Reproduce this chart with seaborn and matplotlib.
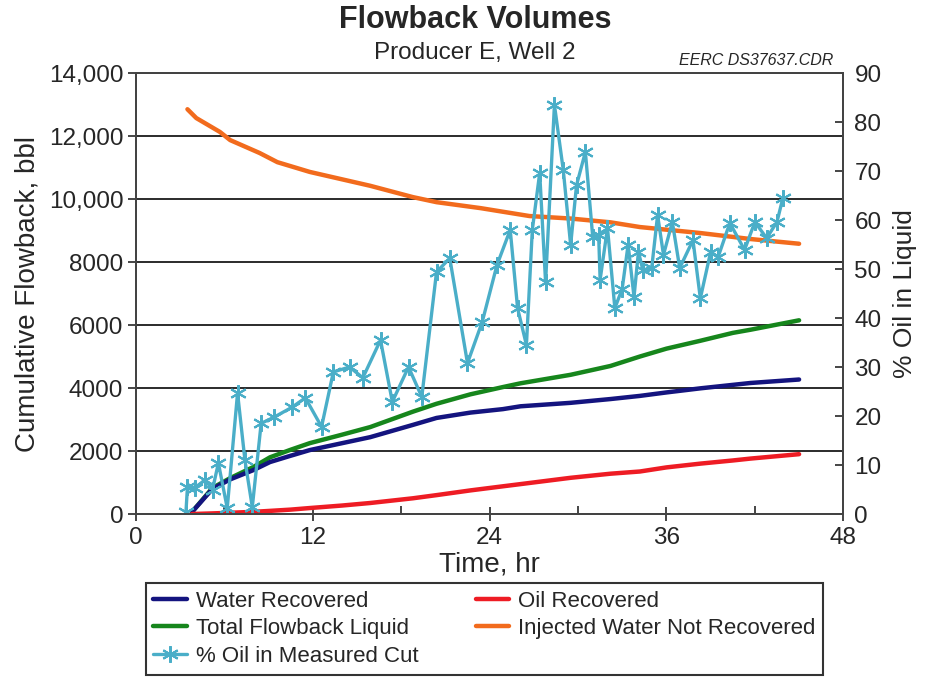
import numpy as np
import pandas as pd
import matplotlib
matplotlib.use("Agg")
import matplotlib.pyplot as plt
from matplotlib.ticker import MultipleLocator
import seaborn as sns

# cumulative volumes, bbl
hours = [3.8, 5.2, 6.4, 8.0, 9.1, 10.5, 11.8, 14.0, 15.9, 18.8, 20.4, 22.7,
         24.9, 26.1, 29.5, 32.2, 34.2, 36.0, 38.3, 40.5, 41.7, 45.0]
water_recovered = [60, 800, 1100, 1400, 1650, 1850, 2030, 2250, 2440, 2830,
                   3050, 3220, 3330, 3420, 3530, 3650, 3750, 3860, 3990,
                   4100, 4160, 4270]
total_flowback = [60, 830, 1140, 1500, 1800, 2040, 2250, 2520, 2760, 3250,
                  3500, 3800, 4030, 4150, 4420, 4700, 5000, 5250, 5500,
                  5750, 5850, 6150]
oil_recovered = [0, 20, 40, 70, 100, 140, 190, 270, 350, 500, 600, 750, 880,
                 950, 1150, 1280, 1350, 1480, 1600, 1700, 1760, 1900]

hours_inj = [3.5, 4.1, 5.7, 6.4, 8.4, 9.6, 11.8, 15.9, 18.8, 20.4, 23.4,
             26.7, 29.5, 32.2, 34.2, 38.3, 41.7, 45.0]
injected_not_recovered = [12850, 12570, 12130, 11870, 11460, 11170, 10860,
                          10420, 10060, 9900, 9710, 9460, 9380, 9260, 9110,
                          8920, 8730, 8580]

# % oil in measured cut (right axis)
hours_cut = [3.4, 3.5, 4.0, 4.7, 5.2, 5.6, 6.2, 6.9, 7.4, 7.9, 8.5, 9.4,
             10.6, 11.5, 12.6, 13.4, 14.5, 15.4, 16.6, 17.4, 18.5, 19.4,
             20.4, 21.3, 22.5, 23.5, 24.5, 25.4, 25.9, 26.5, 26.9, 27.4,
             27.8, 28.4, 29.0, 29.5, 29.9, 30.5, 31.0, 31.4, 31.5, 32.0,
             32.5, 33.0, 33.4, 33.8, 34.1, 34.4, 35.0, 35.4, 35.8, 36.4,
             36.9, 37.8, 38.3, 39.0, 39.5, 40.3, 41.3, 42.0, 42.8, 43.5, 43.9]
pct_oil_cut = [0.5, 5.5, 5.3, 7.0, 5.0, 10.4, 1.2, 24.7, 11.0, 1.4, 18.5,
               19.8, 21.8, 23.7, 17.8, 29.0, 30.0, 27.8, 35.5, 22.9, 30.0,
               23.9, 49.4, 52.2, 30.8, 39.2, 50.8, 58.0, 42.0, 34.5, 58.0,
               69.6, 47.3, 83.5, 70.2, 54.9, 67.1, 73.9, 56.5, 57.0, 47.8,
               58.4, 42.0, 46.0, 55.0, 44.3, 53.5, 49.8, 50.2, 61.0, 52.9,
               59.6, 50.2, 55.9, 44.0, 53.5, 52.4, 59.4, 53.9, 59.6, 56.3,
               59.6, 64.5]

left_ticks = [0, 2000, 4000, 6000, 8000, 10000, 12000, 14000]
left_labels = ["0", "2000", "4000", "6000", "8000", "10,000", "12,000", "14,000"]

sns.set_style("white")
plt.rcParams["font.family"] = ["Liberation Sans", "DejaVu Sans"]

cum = pd.DataFrame({"hr": hours, "water": water_recovered,
                    "total": total_flowback, "oil": oil_recovered})
inj = pd.DataFrame({"hr": hours_inj, "inj": injected_not_recovered})
cut = pd.DataFrame({"hr": hours_cut, "pct": pct_oil_cut})

fig = plt.figure(figsize=(9.37, 6.83), dpi=100)
ax = fig.add_axes([0.145, 0.2474, 0.755, 0.6457])

sns.lineplot(data=inj, x="hr", y="inj", ax=ax, color="#f26b1d", lw=3.2,
             label="Injected Water Not Recovered", legend=False)
sns.lineplot(data=cum, x="hr", y="total", ax=ax, color="#16861c", lw=3.2,
             label="Total Flowback Liquid", legend=False)
sns.lineplot(data=cum, x="hr", y="water", ax=ax, color="#14147f", lw=3.2,
             label="Water Recovered", legend=False)
sns.lineplot(data=cum, x="hr", y="oil", ax=ax, color="#ee1c24", lw=3.2,
             label="Oil Recovered", legend=False)

ax2 = ax.twinx()
sns.lineplot(data=cut, x="hr", y="pct", ax=ax2, color="#4aaec8", lw=2.4,
             marker=(6, 2, 0), markersize=12, markeredgewidth=1.5,
             markeredgecolor="#4aaec8", label="% Oil in Measured Cut",
             legend=False)

ax.set_xlim(0, 48)
ax.set_ylim(0, 14000)
ax2.set_ylim(0, 90)
ax.set_xticks([0, 12, 24, 36, 48])
ax.xaxis.set_minor_locator(MultipleLocator(6))
ax.set_yticks(left_ticks)
ax.set_yticklabels(left_labels)
ax2.set_yticks(np.arange(0, 91, 10))
ax.yaxis.grid(True, color="#2b2b2b", lw=1.4)
ax.set_axisbelow(True)

ax.tick_params(axis="y", direction="out", length=6, width=1.2,
               labelsize=17.5, left=True, pad=3)
ax.tick_params(axis="x", which="major", direction="inout", length=10,
               width=1.2, labelsize=17.5, bottom=True, pad=4)
ax.tick_params(axis="x", which="minor", direction="in", length=6,
               width=1.2, bottom=True)
ax2.tick_params(axis="y", direction="in", length=6, width=1.2,
                labelsize=17.5, right=True, pad=8)

for a in (ax, ax2):
    for s in a.spines.values():
        s.set_color("#444444")
        s.set_linewidth(1.4)

ax.set_xlabel("Time, hr", fontsize=20, labelpad=2)
ax.set_ylabel("Cumulative Flowback, bbl", fontsize=20, labelpad=6)
ax2.set_ylabel("% Oil in Liquid", fontsize=19, rotation=90, labelpad=8)

fig.text(0.507, 0.970, "Flowback Volumes", ha="center", va="center",
         fontsize=22, fontweight="bold")
fig.text(0.507, 0.922, "Producer E, Well 2", ha="center", va="center",
         fontsize=17.5)
fig.text(0.889, 0.911, "EERC DS37637.CDR", ha="right", va="center",
         fontsize=11.5, style="italic")

lines = {l.get_label(): l for l in ax.get_lines() + ax2.get_lines()}
order = ["Water Recovered", "Total Flowback Liquid", "% Oil in Measured Cut",
         "Oil Recovered", "Injected Water Not Recovered"]
leg = fig.legend([lines[k] for k in order], order, ncol=2,
                 loc="lower center", bbox_to_anchor=(0.517, -0.004),
                 fontsize=16, frameon=True, fancybox=False,
                 borderpad=0.35, labelspacing=0.3, handlelength=1.5,
                 handletextpad=0.4, columnspacing=2.6)
leg.get_frame().set_edgecolor("black")
leg.get_frame().set_linewidth(1.5)

fig.savefig("out.png", dpi=100)
